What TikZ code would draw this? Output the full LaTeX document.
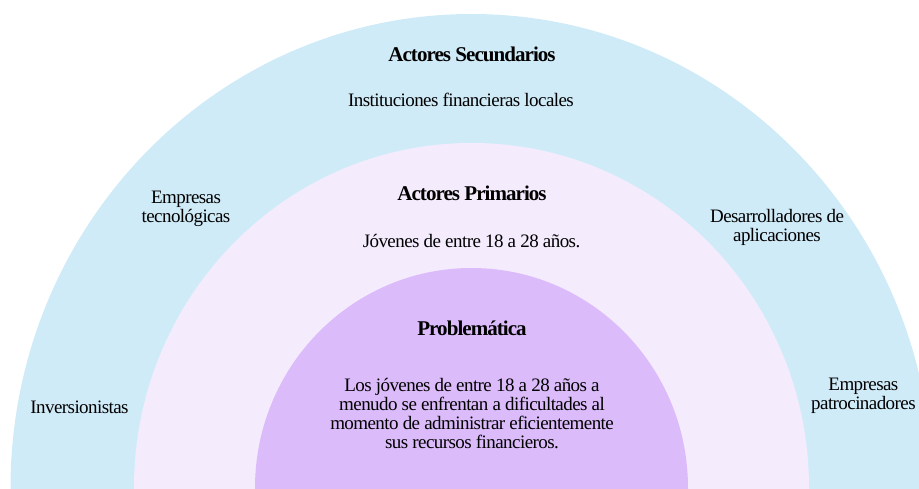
\documentclass[tikz,border=0pt]{standalone}
\usepackage{fontspec}
\setmainfont{Liberation Serif}[LetterSpace=-3]
\definecolor{outerc}{HTML}{D0EBF8}
\definecolor{midc}{HTML}{F4EBFD}
\definecolor{innc}{HTML}{DCBBFA}
\tikzset{
  lbl/.style={inner sep=0pt, align=center, text=black, font=\fontsize{19}{19}\selectfont},
  ttl/.style={inner sep=0pt, align=center, text=black, font=\fontsize{21}{22}\selectfont\bfseries\addfontfeatures{LetterSpace=-4.5}}
}
\begin{document}
\begin{tikzpicture}[x=1pt,y=1pt]
\useasboundingbox (0,0) rectangle (919,488);
\begin{scope}
\clip (0,0) rectangle (919,488);
\fill[outerc] (471.5,0) ellipse [x radius=461, y radius=474];
\fill[midc] (471.5,0) ellipse [x radius=337.5, y radius=345];
\fill[innc] (471.5,0) ellipse [x radius=216.5, y radius=220];
\end{scope}
\node[ttl] (secT) at (472,434) {Actores Secundarios};
\node[lbl] (inst) at (461,388) {Instituciones financieras locales};
\node[lbl] (empTec) at (186,279.5) {Empresas\\tecnológicas};
\node[ttl] (priT) at (472,295) {Actores Primarios};
\node[lbl] (jov) at (471.5,247) {Jóvenes de entre 18 a 28 años.};
\node[lbl] (desa) at (777,261) {Desarrolladores de\\aplicaciones};
\node[ttl] (probT) at (472,160) {Problemática};
\node[lbl] (para) at (472,74.5) {Los jóvenes de entre 18 a 28 años a\\menudo se enfrentan a dificultades al\\momento de administrar eficientemente\\sus recursos financieros.};
\node[lbl] (inv) at (79.5,81) {Inversionistas};
\node[lbl, anchor=west] (empPat) at (811,92.5) {\phantom{patrocinadores}};
\node[lbl] at (empPat.center) {Empresas\\patrocinadores};
\end{tikzpicture}
\end{document}
